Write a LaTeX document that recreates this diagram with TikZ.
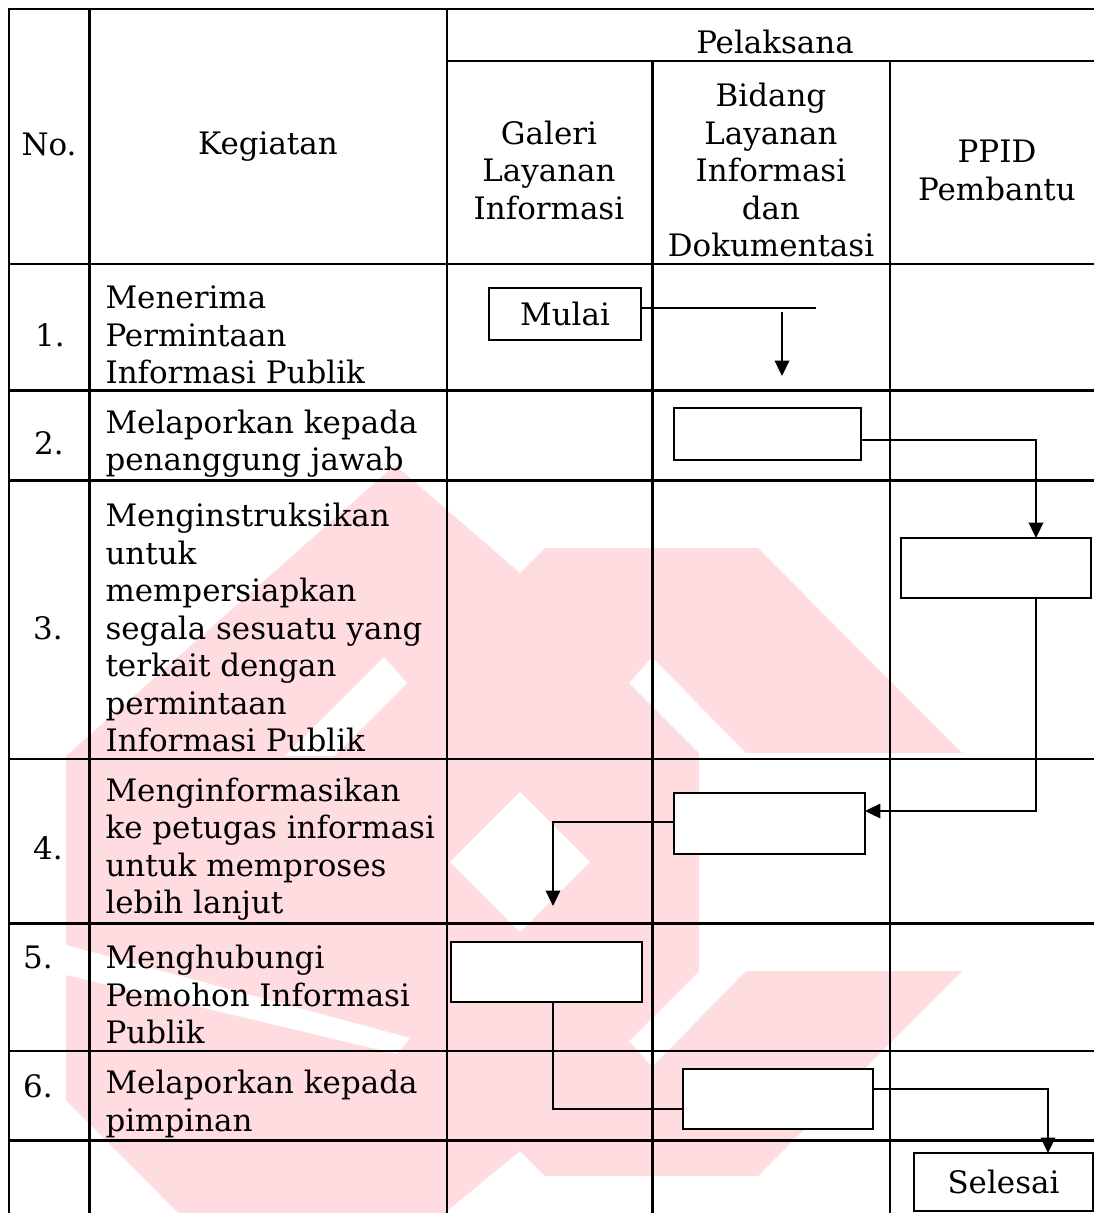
\documentclass[tikz,border=0pt]{standalone}
\usepackage{fontspec}
\setmainfont{DejaVu Serif}
\usetikzlibrary{arrows.meta}
\definecolor{wm}{RGB}{255,220,224}
\begin{document}
\begin{tikzpicture}[x=0.375pt,y=-0.375pt,
  grid/.style={line width=0.95pt, line cap=rect},
  box/.style={draw, line width=0.55pt, fill=white, inner sep=0pt, outer sep=0pt,
              font=\fontsize{11.6}{14.06}\selectfont},
  conn/.style={line width=0.5pt},
  arr/.style={conn, -{Triangle[width=5.5pt,length=5.8pt]}},
  txt/.style={font=\fontsize{11.6}{14.06}\selectfont, inner sep=0pt},
  lbl/.style={txt, align=left, anchor=west}
]
\useasboundingbox (0,0) rectangle (1094,1213);
% watermark
\begin{scope}
\clip (0,0) rectangle (1094,1213);
\fill[wm] (66,756) -- (395,465) -- (520,573) -- (545,548) -- (758,548) -- (962,753)
  -- (746,753) -- (652,657) -- (629,683) -- (699,753) -- (699,971) -- (629,1041)
  -- (652,1067) -- (746,971) -- (962,971) -- (758,1176) -- (545,1176) -- (520,1151)
  -- (430,1225) -- (190,1225) -- (66,1100) -- cycle;
\fill[white] (520,792) -- (590,862) -- (520,932) -- (450,862) -- cycle;
\fill[white] (384,657) -- (407,683) -- (334,756) -- (285,756) -- cycle;
\fill[white] (66,945) -- (410,1038) -- (397,1054) -- (66,975) -- cycle;
\end{scope}
% table grid
\draw[grid] (9,9) -- (1094,9);
\draw[grid] (447,61) -- (1094,61);
\foreach \y in {264,390.5,480.5,759,923.5,1051,1140.5} \draw[grid] (9,\y) -- (1094,\y);
\foreach \x in {9,89.5,447} \draw[grid] (\x,9) -- (\x,1213);
\foreach \x in {652.5,890} \draw[grid] (\x,61) -- (\x,1213);
% headers
\node[txt] (no) at (49,144) {No.};
\node[txt] (keg) at (268,147) {Kegiatan};
\node[txt] (pel) at (775,42) {Pelaksana};
\node[txt, align=center] (gal) at (549,170) {Galeri\\Layanan\\Informasi};
\node[txt, align=center] (bid) at (771,170) {Bidang\\Layanan\\Informasi\\dan\\Dokumentasi};
\node[txt, align=center] (ppid) at (997,170.5) {PPID\\Pembantu};
% numbers
\node[txt] (n1) at (50,335) {1.};
\node[txt] (n2) at (49,443) {2.};
\node[txt] (n3) at (48,628) {3.};
\node[txt] (n4) at (48,848) {4.};
\node[txt] (n5) at (38,957) {5.};
\node[txt] (n6) at (38,1086) {6.};
% activities
\node[lbl] (k1) at (105,335) {Menerima\\Permintaan\\Informasi Publik};
\node[lbl] (k2) at (105,443.5) {Melaporkan kepada\\penanggung jawab};
\node[lbl] (k3) at (105,627.5) {Menginstruksikan\\untuk\\mempersiapkan\\segala sesuatu yang\\terkait dengan\\permintaan\\Informasi Publik};
\node[lbl] (k4) at (105,849) {Menginformasikan\\ke petugas informasi\\untuk memproses\\lebih lanjut};
\node[lbl] (k5) at (105,994.5) {Menghubungi\\Pemohon Informasi\\Publik};
\node[lbl] (k6) at (105,1104) {Melaporkan kepada\\pimpinan};
% flow boxes
\node[box, minimum width=57pt, minimum height=19.5pt] (mulai) at (565,314) {Mulai};
\node[box, minimum width=70.1pt, minimum height=19.5pt] (b2) at (767.5,434) {};
\node[box, minimum width=71.25pt, minimum height=22.5pt] (b3) at (996,568) {};
\node[box, minimum width=71.6pt, minimum height=22.9pt] (b4) at (769.5,823.5) {};
\node[box, minimum width=71.6pt, minimum height=22.5pt] (b5) at (546.5,972) {};
\node[box, minimum width=71.25pt, minimum height=22.5pt] (b6) at (778,1099) {};
\node[box, minimum width=67.1pt, minimum height=21.75pt] (sel) at (1003.5,1182) {Selesai};
% connectors
\coordinate (m1) at (816,308);
\coordinate (a1s) at (782,312);
\coordinate (a1e) at (782,376);
\draw[conn] (mulai.east |- m1) -- (m1);
\draw[arr] (a1s) -- (a1e);
\coordinate (c2) at (1036,440);
\draw[arr] (b2.east |- c2) -- (c2) -- (c2 |- b3.north);
\coordinate (c3) at (1036,811);
\draw[arr] (c3 |- b3.south) -- (c3) -- (c3 -| b4.east);
\coordinate (c4) at (553,822);
\coordinate (c4e) at (553,906);
\draw[arr] (c4 -| b4.west) -- (c4) -- (c4e);
\coordinate (c5) at (553,1109);
\draw[conn] (c5 |- b5.south) -- (c5) -- (c5 -| b6.west);
\coordinate (c6) at (1048,1089);
\draw[arr] (b6.east |- c6) -- (c6) -- (c6 |- sel.north);
\end{tikzpicture}
\end{document}
